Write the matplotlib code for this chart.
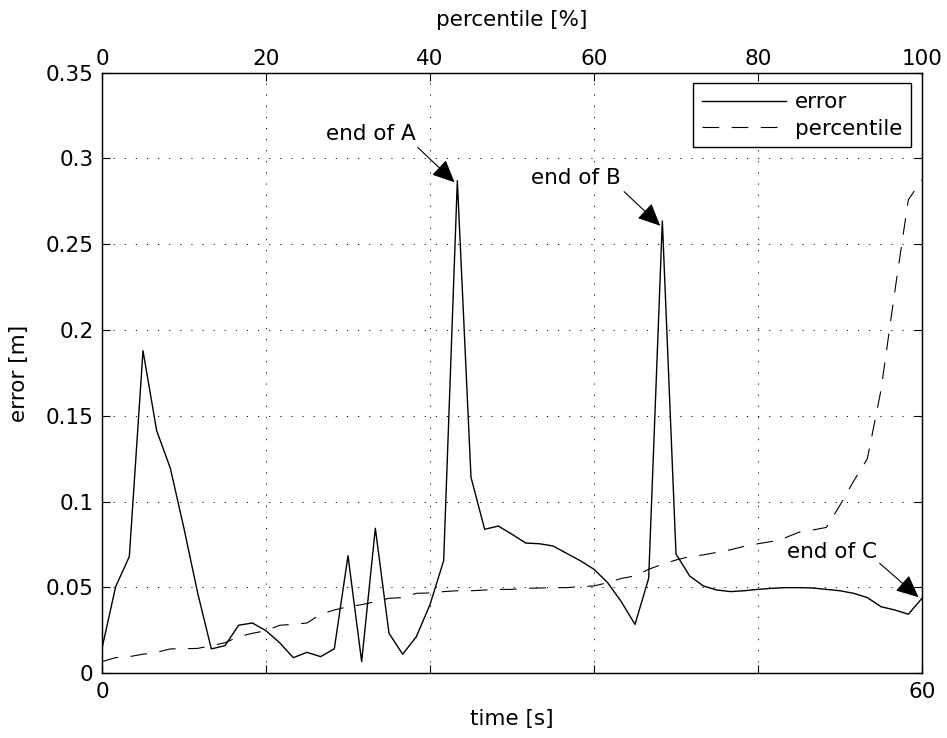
import numpy as np
import matplotlib
matplotlib.use("Agg")
import matplotlib.pyplot as plt

# error of the estimate, sampled once per second (0..60 s)
TIME_S = np.arange(0, 61)
ERROR_M = [0.0145, 0.0505, 0.068, 0.188, 0.1414, 0.1195, 0.0844, 0.0468,
           0.0142, 0.0161, 0.028, 0.0293, 0.0248, 0.0178, 0.0091, 0.0122,
           0.0097, 0.0143, 0.0685, 0.0068, 0.0845, 0.0233, 0.0111, 0.0213,
           0.040, 0.0656, 0.287, 0.1142, 0.0839, 0.0858, 0.081, 0.0759,
           0.0755, 0.0742, 0.0699, 0.0656, 0.0606, 0.0528, 0.0417, 0.0285,
           0.0553, 0.2636, 0.0695, 0.0567, 0.0509, 0.0485, 0.0476, 0.0481,
           0.0489, 0.0495, 0.0499, 0.0499, 0.0497, 0.0489, 0.0481, 0.0466,
           0.0441, 0.0388, 0.0369, 0.0344, 0.0437]

# percentile curve (top axis, 0..100 %)
PCT = np.linspace(0, 100, 61)
PCT_ERROR = [0.0068, 0.0091, 0.0097, 0.0111, 0.0122, 0.0142, 0.0143, 0.0145,
             0.0161, 0.0178, 0.0213, 0.0233, 0.0248, 0.0280, 0.0285, 0.0293,
             0.0344, 0.0369, 0.0388, 0.0400, 0.0417, 0.0437, 0.0441, 0.0466,
             0.0468, 0.0476, 0.0481, 0.0481, 0.0485, 0.0489, 0.0489, 0.0495,
             0.0497, 0.0499, 0.0499, 0.0505, 0.0509, 0.0528, 0.0553, 0.0567,
             0.0606, 0.0635, 0.0660, 0.0680, 0.0690, 0.0705, 0.0720, 0.0740,
             0.0755, 0.0768, 0.0790, 0.0822, 0.0835, 0.0850, 0.0980, 0.1120,
             0.1250, 0.1650, 0.2220, 0.2760, 0.2875]

Y_TICKS = [0, 0.05, 0.1, 0.15, 0.2, 0.25, 0.3, 0.35]
Y_LABELS = ["0", "0.05", "0.1", "0.15", "0.2", "0.25", "0.3", "0.35"]
TIME_TICKS = [0, 60]
PCT_TICKS = [0, 20, 40, 60, 80, 100]

# annotation: label, text position, arrow tail, arrow tip
NOTES = [("end of A", (19.7, 0.3143), (23.1, 0.3065), (25.8, 0.2861)),
         ("end of B", (34.7, 0.2885), (38.2, 0.2807), (40.85, 0.2608)),
         ("end of C", (53.4, 0.0709), (56.9, 0.0641), (59.75, 0.0443))]

FS = 15.5
plt.rcParams["font.family"] = ["DejaVu Sans"]
plt.rcParams["lines.scale_dashes"] = False

GRID = dict(color="black", linestyle=(0, (0.8, 7.2)), linewidth=0.7)
DASH = (0, (12, 9))


def main():
    fig = plt.figure(figsize=(9.47, 7.38), dpi=100)
    ax = fig.add_axes([0.1077, 0.0877, 0.8659, 0.8138])

    l1, = ax.plot(TIME_S, ERROR_M, color="black", linewidth=1.0)
    ax.set_xlim(0, 60)
    ax.set_ylim(0, 0.35)
    ax.set_xticks(TIME_TICKS)
    ax.set_yticks(Y_TICKS)
    ax.set_yticklabels(Y_LABELS)
    ax.yaxis.grid(True, **GRID)
    ax.tick_params(direction="in", length=6, width=0.8, labelsize=FS,
                   right=True, top=False)
    ax.tick_params(axis="x", pad=6)
    ax.tick_params(axis="y", pad=6)
    ax.set_xlabel("time [s]", fontsize=FS, labelpad=5)
    ax.set_ylabel("error [m]", fontsize=FS, labelpad=12)

    # percentile axis on top
    ax2 = ax.twiny()
    l2, = ax2.plot(PCT, PCT_ERROR, color="black", linewidth=0.8,
                   linestyle=DASH)
    ax2.set_xlim(0, 100)
    ax2.set_xticks(PCT_TICKS)
    ax2.xaxis.grid(True, **GRID)
    ax2.tick_params(direction="in", length=6, width=0.8, labelsize=FS,
                    top=True, bottom=True, labeltop=True,
                    labelbottom=False, pad=3)
    ax2.set_xlabel("percentile [%]", fontsize=FS, labelpad=16)

    for a in (ax, ax2):
        for s in a.spines.values():
            s.set_linewidth(0.9)

    for label, txt, tail, tip in NOTES:
        ax2.annotate("", xy=tip, xytext=tail,
                     xycoords=ax.transData, textcoords=ax.transData,
                     arrowprops=dict(arrowstyle="-|>,head_length=0.7,"
                                                "head_width=0.32",
                                     mutation_scale=20, color="black",
                                     lw=0.8, shrinkA=0, shrinkB=0))
        ax2.text(txt[0], txt[1], label, transform=ax.transData,
                 fontsize=FS, ha="center", va="center")

    leg = ax2.legend([l1, l2], ["error", "percentile"], loc="upper right",
                     fontsize=FS, handlelength=3.9, borderaxespad=0.5,
                     fancybox=False, framealpha=1, edgecolor="black",
                     borderpad=0.4, labelspacing=0.3, handletextpad=0.45)
    leg.get_frame().set_linewidth(1.0)

    fig.savefig("out.png", dpi=100)


main()
